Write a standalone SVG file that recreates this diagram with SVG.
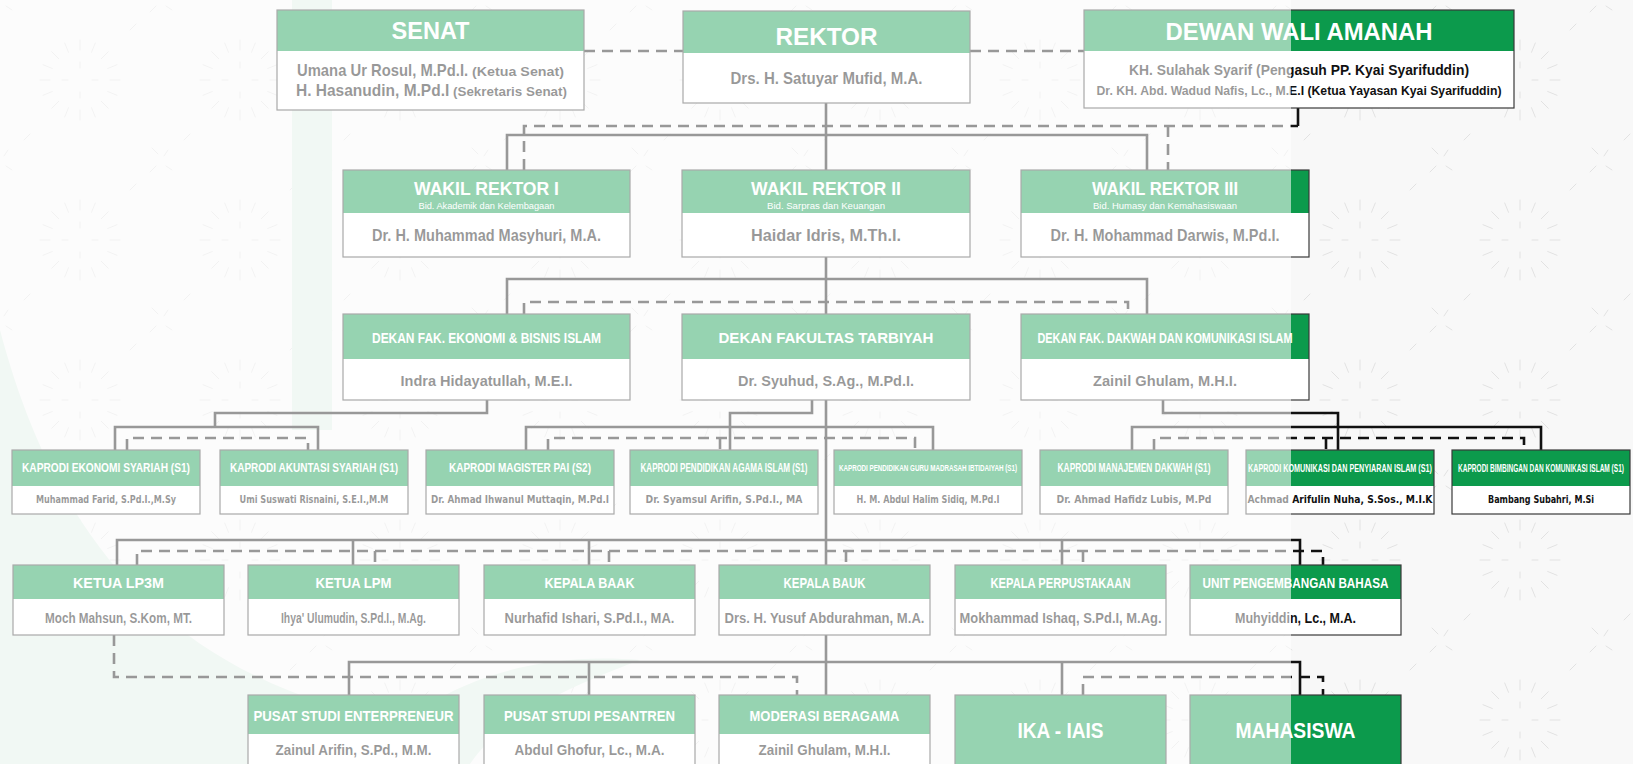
<svg xmlns="http://www.w3.org/2000/svg" width="1633" height="764" viewBox="0 0 1633 764">
<defs>
<style>
.bd{fill:#fff}
.hd{fill:#0c9a4c}
.ol{fill:none;stroke:#3a3a3a;stroke-width:1.2}
.t{font-family:"Liberation Sans",Arial,sans-serif;font-weight:bold;fill:#fff;text-anchor:middle}
.n{font-family:"Liberation Sans",Arial,sans-serif;font-weight:bold;fill:#111;text-anchor:middle}
.ns{font-family:"Liberation Sans",Arial,sans-serif;font-weight:bold;fill:#111;text-anchor:start}
.k{font-family:"DejaVu Sans Condensed","DejaVu Sans",sans-serif;font-weight:bold;fill:#111;text-anchor:middle}
.ln{fill:none;stroke:#111;stroke-width:2.6}
.ds{stroke-dasharray:11 7}
.rays{fill:none;stroke:#e2e2e2;stroke-width:1;stroke-linecap:round}
</style>
<pattern id="bgp" width="160" height="160" patternUnits="userSpaceOnUse">
<path class="rays" d="M110 80L120 80M107.7 91.5L117 95.3M101.2 101.2L108.3 108.3M91.5 107.7L95.3 117M80 110L80 120M68.5 107.7L64.7 117M58.8 101.2L51.7 108.3M52.3 91.5L43 95.3M50 80L40 80M52.3 68.5L43 64.7M58.8 58.8L51.7 51.7M68.5 52.3L64.7 43M80 50L80 40M91.5 52.3L95.3 43M101.2 58.8L108.3 51.7M107.7 68.5L117 64.7M92 80L98 80M80 92L80 98M68 80L62 80M80 68L80 62M6 6L12 10M150 12L156 6M8 150L4 156M152 148L158 154M24 140L30 134M136 24L130 30"/>
</pattern>
</defs>

<!-- page background with faint ornament -->
<g id="background">
<rect x="0" y="0" width="1633" height="764" fill="#f8f8f8"/>
<rect x="0" y="0" width="1633" height="764" fill="url(#bgp)"/>
<path d="M0 330C50 520 150 650 330 705L330 764L0 764Z" fill="#dfeee5"/>
<rect x="292" y="0" width="40" height="430" fill="#dfeee5"/>
<path d="M360 764C420 690 520 650 640 660C560 690 500 720 470 764Z" fill="#dfeee5"/>
</g>

<!-- connectors -->
<g id="connectors">
<path class="ln" d="M826 103V695M507 170V135H1147V170M507 314V279H1147V314M1298 108V126M487 400V413H215V427M115 450V427H318V450M812 400V413H730V450M526 450V427H933V450M1163 400V413H1338V450M1132 450V427H1541V450M117 565V540H1300V565M353 540V565M589 540V565M1062 540V565M349 695V662H1300V695M589 662V695M1062 662V695"/>
<path class="ln ds" d="M584 51H683M970 51H1084M524 170V126H1298M1168 126V170M524 314V302H1128V314M127 450V438H308V450M548 450V438H915V450M720 438V450M1154 450V438H1524V450M1326 438V450M137 565V551H1323V565M375 551V565M609 551V565M846 551V565M1083 551V565M114 635V677H797V695M1083 695V677H1323V695"/>
</g>

<!-- row 1 -->
<g id="senat">
<rect class="bd" x="277" y="10" width="307" height="100"/>
<rect class="hd" x="277" y="10" width="307" height="41"/>
<rect class="ol" x="277" y="10" width="307" height="100"/>
<text class="t" x="430.5" y="39" font-size="23" textLength="78" lengthAdjust="spacingAndGlyphs">SENAT</text>
<text class="ns" transform="translate(297 75.5) scale(0.925 1)" font-size="16" textLength="185" lengthAdjust="spacingAndGlyphs">Umana Ur Rosul, M.Pd.I.</text>
<text class="ns" x="472" y="75.5" font-size="13" textLength="92" lengthAdjust="spacingAndGlyphs">(Ketua Senat)</text>
<text class="ns" transform="translate(296 95.5) scale(0.97 1)" font-size="16" textLength="158" lengthAdjust="spacingAndGlyphs">H. Hasanudin, M.Pd.I</text>
<text class="ns" x="453" y="95.5" font-size="13" textLength="114" lengthAdjust="spacingAndGlyphs">(Sekretaris Senat)</text>
</g>
<g id="rektor">
<rect class="bd" x="683" y="11" width="287" height="92"/>
<rect class="hd" x="683" y="11" width="287" height="42"/>
<rect class="ol" x="683" y="11" width="287" height="92"/>
<text class="t" x="826.5" y="44.5" font-size="24" textLength="102" lengthAdjust="spacingAndGlyphs">REKTOR</text>
<text class="n" x="826.5" y="84" font-size="17" textLength="192" lengthAdjust="spacingAndGlyphs">Drs. H. Satuyar Mufid, M.A.</text>
</g>
<g id="dewan-wali-amanah">
<rect class="bd" x="1084" y="10" width="430" height="98"/>
<rect class="hd" x="1084" y="10" width="430" height="41"/>
<rect class="ol" x="1084" y="10" width="430" height="98"/>
<text class="t" x="1299" y="39.5" font-size="23.5" textLength="267" lengthAdjust="spacingAndGlyphs">DEWAN WALI AMANAH</text>
<text class="n" x="1299" y="74.5" font-size="14" textLength="340" lengthAdjust="spacingAndGlyphs">KH. Sulahak Syarif (Pengasuh PP. Kyai Syarifuddin)</text>
<text class="n" x="1299" y="94.5" font-size="13.5" textLength="405" lengthAdjust="spacingAndGlyphs">Dr. KH. Abd. Wadud Nafis, Lc., M.E.I (Ketua Yayasan Kyai Syarifuddin)</text>
</g>

<!-- row 2 -->
<g id="wakil-rektor-1">
<rect class="bd" x="343" y="170" width="287" height="87"/>
<rect class="hd" x="343" y="170" width="287" height="43"/>
<rect class="ol" x="343" y="170" width="287" height="87"/>
<text class="t" x="486.5" y="195" font-size="19" textLength="145" lengthAdjust="spacingAndGlyphs">WAKIL REKTOR I</text>
<text class="t" x="486.5" y="208.5" font-size="8.5" style="font-weight:normal" textLength="136" lengthAdjust="spacingAndGlyphs">Bid. Akademik dan Kelembagaan</text>
<text class="n" x="486.5" y="241" font-size="16.5" textLength="229" lengthAdjust="spacingAndGlyphs">Dr. H. Muhammad Masyhuri, M.A.</text>
</g>
<g id="wakil-rektor-2">
<rect class="bd" x="682" y="170" width="288" height="87"/>
<rect class="hd" x="682" y="170" width="288" height="43"/>
<rect class="ol" x="682" y="170" width="288" height="87"/>
<text class="t" x="826" y="195" font-size="19" textLength="150" lengthAdjust="spacingAndGlyphs">WAKIL REKTOR II</text>
<text class="t" x="826" y="208.5" font-size="8.5" style="font-weight:normal" textLength="118" lengthAdjust="spacingAndGlyphs">Bid. Sarpras dan Keuangan</text>
<text class="n" x="826" y="241" font-size="16.5" textLength="150" lengthAdjust="spacingAndGlyphs">Haidar Idris, M.Th.I.</text>
</g>
<g id="wakil-rektor-3">
<rect class="bd" x="1021" y="170" width="288" height="87"/>
<rect class="hd" x="1021" y="170" width="288" height="43"/>
<rect class="ol" x="1021" y="170" width="288" height="87"/>
<text class="t" x="1165" y="195" font-size="19" textLength="146" lengthAdjust="spacingAndGlyphs">WAKIL REKTOR III</text>
<text class="t" x="1165" y="208.5" font-size="8.5" style="font-weight:normal" textLength="144" lengthAdjust="spacingAndGlyphs">Bid. Humasy dan Kemahasiswaan</text>
<text class="n" x="1165" y="241" font-size="16.5" textLength="229" lengthAdjust="spacingAndGlyphs">Dr. H. Mohammad Darwis, M.Pd.I.</text>
</g>

<!-- row 3 -->
<g id="dekan-febi">
<rect class="bd" x="343" y="314" width="287" height="86"/>
<rect class="hd" x="343" y="314" width="287" height="45"/>
<rect class="ol" x="343" y="314" width="287" height="86"/>
<text class="t" x="486.5" y="343" font-size="14.5" textLength="229" lengthAdjust="spacingAndGlyphs">DEKAN FAK. EKONOMI &amp; BISNIS ISLAM</text>
<text class="n" x="486.5" y="386" font-size="15.5" textLength="172" lengthAdjust="spacingAndGlyphs">Indra Hidayatullah, M.E.I.</text>
</g>
<g id="dekan-tarbiyah">
<rect class="bd" x="682" y="314" width="288" height="86"/>
<rect class="hd" x="682" y="314" width="288" height="45"/>
<rect class="ol" x="682" y="314" width="288" height="86"/>
<text class="t" x="826" y="343" font-size="14.5" textLength="215" lengthAdjust="spacingAndGlyphs">DEKAN FAKULTAS TARBIYAH</text>
<text class="n" x="826" y="386" font-size="15.5" textLength="176" lengthAdjust="spacingAndGlyphs">Dr. Syuhud, S.Ag., M.Pd.I.</text>
</g>
<g id="dekan-dakwah">
<rect class="bd" x="1021" y="314" width="288" height="86"/>
<rect class="hd" x="1021" y="314" width="288" height="45"/>
<rect class="ol" x="1021" y="314" width="288" height="86"/>
<text class="t" x="1165" y="343" font-size="14.5" textLength="255" lengthAdjust="spacingAndGlyphs">DEKAN FAK. DAKWAH DAN KOMUNIKASI ISLAM</text>
<text class="n" x="1165" y="386" font-size="15.5" textLength="144" lengthAdjust="spacingAndGlyphs">Zainil Ghulam, M.H.I.</text>
</g>

<!-- row 4: heads of study programmes (titles narrowed horizontally) -->
<g id="kaprodi-es">
<rect class="bd" x="12" y="450" width="188" height="64"/><rect class="hd" x="12" y="450" width="188" height="36"/><rect class="ol" x="12" y="450" width="188" height="64"/>
<text class="t" transform="translate(106 472) scale(0.843 1)" font-size="12" textLength="199.3" lengthAdjust="spacingAndGlyphs">KAPRODI EKONOMI SYARIAH (S1)</text>
<text class="k" x="106" y="503" font-size="10.5" textLength="140" lengthAdjust="spacingAndGlyphs">Muhammad Farid, S.Pd.I.,M.Sy</text>
</g>
<g id="kaprodi-as">
<rect class="bd" x="220" y="450" width="188" height="64"/><rect class="hd" x="220" y="450" width="188" height="36"/><rect class="ol" x="220" y="450" width="188" height="64"/>
<text class="t" transform="translate(314 472) scale(0.824 1)" font-size="12" textLength="204" lengthAdjust="spacingAndGlyphs">KAPRODI AKUNTASI SYARIAH (S1)</text>
<text class="k" x="314" y="503" font-size="10.5" textLength="149" lengthAdjust="spacingAndGlyphs">Umi Suswati Risnaini, S.E.I.,M.M</text>
</g>
<g id="kaprodi-mpai">
<rect class="bd" x="426" y="450" width="188" height="64"/><rect class="hd" x="426" y="450" width="188" height="36"/><rect class="ol" x="426" y="450" width="188" height="64"/>
<text class="t" transform="translate(520 472) scale(0.829 1)" font-size="12" textLength="171.3" lengthAdjust="spacingAndGlyphs">KAPRODI MAGISTER PAI (S2)</text>
<text class="k" x="520" y="503" font-size="10.5" textLength="178" lengthAdjust="spacingAndGlyphs">Dr. Ahmad Ihwanul Muttaqin, M.Pd.I</text>
</g>
<g id="kaprodi-pai">
<rect class="bd" x="630" y="450" width="188" height="64"/><rect class="hd" x="630" y="450" width="188" height="36"/><rect class="ol" x="630" y="450" width="188" height="64"/>
<text class="t" transform="translate(724 472) scale(0.672 1)" font-size="12" textLength="248.7" lengthAdjust="spacingAndGlyphs">KAPRODI PENDIDIKAN AGAMA ISLAM (S1)</text>
<text class="k" x="724" y="503" font-size="10.5" textLength="157" lengthAdjust="spacingAndGlyphs">Dr. Syamsul Arifin, S.Pd.I., MA</text>
</g>
<g id="kaprodi-pgmi">
<rect class="bd" x="834" y="450" width="188" height="64"/><rect class="hd" x="834" y="450" width="188" height="36"/><rect class="ol" x="834" y="450" width="188" height="64"/>
<text class="t" transform="translate(928 471) scale(0.691 1)" font-size="9" textLength="257.5" lengthAdjust="spacingAndGlyphs">KAPRODI PENDIDIKAN GURU MADRASAH IBTIDAIYAH (S1)</text>
<text class="k" x="928" y="503" font-size="10.5" textLength="143" lengthAdjust="spacingAndGlyphs">H. M. Abdul Halim Sidiq, M.Pd.I</text>
</g>
<g id="kaprodi-md">
<rect class="bd" x="1040" y="450" width="188" height="64"/><rect class="hd" x="1040" y="450" width="188" height="36"/><rect class="ol" x="1040" y="450" width="188" height="64"/>
<text class="t" transform="translate(1134 472) scale(0.695 1)" font-size="12" textLength="220" lengthAdjust="spacingAndGlyphs">KAPRODI MANAJEMEN DAKWAH (S1)</text>
<text class="k" x="1134" y="503" font-size="10.5" textLength="155" lengthAdjust="spacingAndGlyphs">Dr. Ahmad Hafidz Lubis, M.Pd</text>
</g>
<g id="kaprodi-kpi">
<rect class="bd" x="1246" y="450" width="188" height="64"/><rect class="hd" x="1246" y="450" width="188" height="36"/><rect class="ol" x="1246" y="450" width="188" height="64"/>
<text class="t" transform="translate(1340 472) scale(0.722 1)" font-size="10" textLength="254.8" lengthAdjust="spacingAndGlyphs">KAPRODI KOMUNIKASI DAN PENYIARAN ISLAM (S1)</text>
<text class="k" x="1340" y="503" font-size="10.5" textLength="185" lengthAdjust="spacingAndGlyphs">Achmad Arifulin Nuha, S.Sos., M.I.K</text>
</g>
<g id="kaprodi-bki">
<rect class="bd" x="1452" y="450" width="178" height="64"/><rect class="hd" x="1452" y="450" width="178" height="36"/><rect class="ol" x="1452" y="450" width="178" height="64"/>
<text class="t" transform="translate(1541 472) scale(0.654 1)" font-size="10" textLength="253.7" lengthAdjust="spacingAndGlyphs">KAPRODI BIMBINGAN DAN KOMUNIKASI ISLAM (S1)</text>
<text class="k" x="1541" y="503" font-size="10.5" textLength="106" lengthAdjust="spacingAndGlyphs">Bambang Subahri, M.Si</text>
</g>

<!-- row 5: units -->
<g id="ketua-lp3m">
<rect class="bd" x="13" y="565" width="211" height="70"/><rect class="hd" x="13" y="565" width="211" height="34"/><rect class="ol" x="13" y="565" width="211" height="70"/>
<text class="t" x="118.5" y="588" font-size="15" textLength="91" lengthAdjust="spacingAndGlyphs">KETUA LP3M</text>
<text class="n" x="118.5" y="623" font-size="14" textLength="147" lengthAdjust="spacingAndGlyphs">Moch Mahsun, S.Kom, MT.</text>
</g>
<g id="ketua-lpm">
<rect class="bd" x="248" y="565" width="211" height="70"/><rect class="hd" x="248" y="565" width="211" height="34"/><rect class="ol" x="248" y="565" width="211" height="70"/>
<text class="t" x="353.5" y="588" font-size="15" textLength="76" lengthAdjust="spacingAndGlyphs">KETUA LPM</text>
<text class="n" x="353.5" y="623" font-size="14" textLength="145" lengthAdjust="spacingAndGlyphs">Ihya' Ulumudin, S.Pd.I., M.Ag.</text>
</g>
<g id="kepala-baak">
<rect class="bd" x="484" y="565" width="211" height="70"/><rect class="hd" x="484" y="565" width="211" height="34"/><rect class="ol" x="484" y="565" width="211" height="70"/>
<text class="t" x="589.5" y="588" font-size="15" textLength="90" lengthAdjust="spacingAndGlyphs">KEPALA BAAK</text>
<text class="n" x="589.5" y="623" font-size="14" textLength="170" lengthAdjust="spacingAndGlyphs">Nurhafid Ishari, S.Pd.I., MA.</text>
</g>
<g id="kepala-bauk">
<rect class="bd" x="719" y="565" width="211" height="70"/><rect class="hd" x="719" y="565" width="211" height="34"/><rect class="ol" x="719" y="565" width="211" height="70"/>
<text class="t" x="824.5" y="588" font-size="15" textLength="82" lengthAdjust="spacingAndGlyphs">KEPALA BAUK</text>
<text class="n" x="824.5" y="623" font-size="14" textLength="200" lengthAdjust="spacingAndGlyphs">Drs. H. Yusuf Abdurahman, M.A.</text>
</g>
<g id="kepala-perpustakaan">
<rect class="bd" x="955" y="565" width="211" height="70"/><rect class="hd" x="955" y="565" width="211" height="34"/><rect class="ol" x="955" y="565" width="211" height="70"/>
<text class="t" x="1060.5" y="588" font-size="15" textLength="140" lengthAdjust="spacingAndGlyphs">KEPALA PERPUSTAKAAN</text>
<text class="n" x="1060.5" y="623" font-size="14" textLength="202" lengthAdjust="spacingAndGlyphs">Mokhammad Ishaq, S.Pd.I, M.Ag.</text>
</g>
<g id="unit-bahasa">
<rect class="bd" x="1190" y="565" width="211" height="70"/><rect class="hd" x="1190" y="565" width="211" height="34"/><rect class="ol" x="1190" y="565" width="211" height="70"/>
<text class="t" x="1295.5" y="588" font-size="15" textLength="186" lengthAdjust="spacingAndGlyphs">UNIT PENGEMBANGAN BAHASA</text>
<text class="n" x="1295.5" y="623" font-size="14" textLength="121" lengthAdjust="spacingAndGlyphs">Muhyiddin, Lc., M.A.</text>
</g>

<!-- row 6 -->
<g id="pusat-enterpreneur">
<rect class="bd" x="248" y="695" width="211" height="80"/><rect class="hd" x="248" y="695" width="211" height="39"/><rect class="ol" x="248" y="695" width="211" height="80"/>
<text class="t" x="353.5" y="720.5" font-size="14" textLength="200" lengthAdjust="spacingAndGlyphs">PUSAT STUDI ENTERPRENEUR</text>
<text class="n" x="353.5" y="755" font-size="14" textLength="156" lengthAdjust="spacingAndGlyphs">Zainul Arifin, S.Pd., M.M.</text>
</g>
<g id="pusat-pesantren">
<rect class="bd" x="484" y="695" width="211" height="80"/><rect class="hd" x="484" y="695" width="211" height="39"/><rect class="ol" x="484" y="695" width="211" height="80"/>
<text class="t" x="589.5" y="720.5" font-size="14" textLength="171" lengthAdjust="spacingAndGlyphs">PUSAT STUDI PESANTREN</text>
<text class="n" x="589.5" y="755" font-size="14" textLength="150" lengthAdjust="spacingAndGlyphs">Abdul Ghofur, Lc., M.A.</text>
</g>
<g id="moderasi-beragama">
<rect class="bd" x="719" y="695" width="211" height="80"/><rect class="hd" x="719" y="695" width="211" height="39"/><rect class="ol" x="719" y="695" width="211" height="80"/>
<text class="t" x="824.5" y="720.5" font-size="14" textLength="150" lengthAdjust="spacingAndGlyphs">MODERASI BERAGAMA</text>
<text class="n" x="824.5" y="755" font-size="14" textLength="132" lengthAdjust="spacingAndGlyphs">Zainil Ghulam, M.H.I.</text>
</g>
<g id="ika-iais">
<rect class="hd" x="955" y="695" width="211" height="80"/><rect class="ol" x="955" y="695" width="211" height="80"/>
<text class="t" x="1060.5" y="738" font-size="22" textLength="86" lengthAdjust="spacingAndGlyphs">IKA - IAIS</text>
</g>
<g id="mahasiswa">
<rect class="hd" x="1190" y="695" width="211" height="80"/><rect class="ol" x="1190" y="695" width="211" height="80"/>
<text class="t" x="1295.5" y="738" font-size="22" textLength="120" lengthAdjust="spacingAndGlyphs">MAHASISWA</text>
</g>

<!-- soft white veil over the left part of the chart -->
<rect id="veil" x="0" y="0" width="1291" height="764" fill="#fff" opacity="0.57"/>
</svg>
